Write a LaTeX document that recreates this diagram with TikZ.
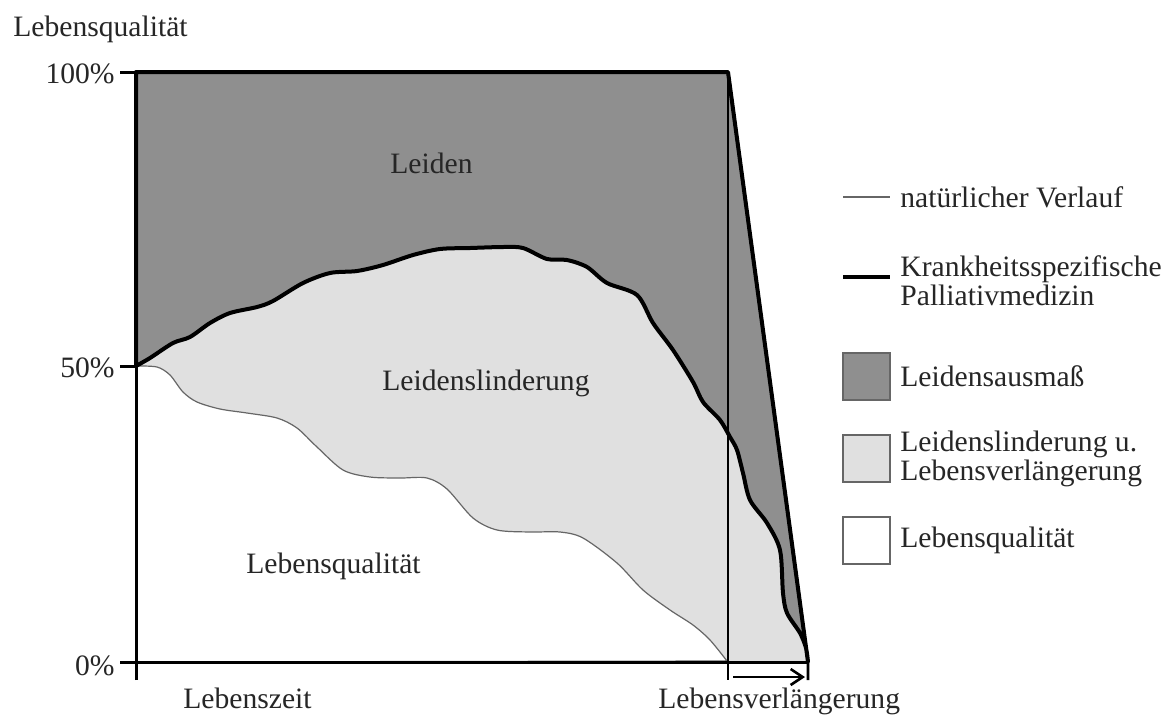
\documentclass[tikz,border=0pt]{standalone}
\usepackage{fontspec}
\setmainfont{Liberation Serif}
\usetikzlibrary{arrows.meta}
\definecolor{leidgray}{gray}{0.56}
\definecolor{lindgray}{gray}{0.88}
\begin{document}
\begin{tikzpicture}[x=0.5pt,y=-0.5pt,
    lbl/.style={font=\fontsize{14.8}{14.5}\selectfont, inner sep=0pt, text=black!85},
    axis/.style={line width=1.5pt},
    natural/.style={line width=0.6pt, draw=black!60},
    palliativ/.style={line width=2pt, line join=round},
    legbox/.style={draw=black!60, line width=0.8pt}]
\useasboundingbox (0,0) rectangle (1174,714);
\fill[lindgray] (136,72) -- (728,72) -- (808,662) -- (136,662) -- cycle;
\filldraw[fill=white, natural] plot[smooth, tension=0.5] coordinates {
    (136,366) (157,367) (170,375) (183,392) (197,402) (220,409) (247,413)
    (277,418) (297,428) (317,447) (343,470) (370,477) (400,478) (427,478)
    (447,489) (473,518) (497,530) (530,532) (560,532) (583,538) (617,563)
    (643,590) (670,610) (693,625) (710,640) (727,661)
  } -- (136,662) -- cycle;
\filldraw[fill=leidgray, palliativ] plot[smooth, tension=0.5] coordinates {
    (136,366) (150,358) (173,343) (190,337) (210,323) (230,313) (257,307)
    (273,301) (303,283) (330,273) (357,271) (383,265) (413,255) (440,249)
    (470,248) (503,247) (523,248) (547,259) (567,260) (587,267) (607,283)
    (637,295) (653,323) (673,350) (693,382) (703,402) (720,420) (730,437)
    (737,450) (743,473) (750,500) (767,523) (780,550) (783,593) (787,613)
    (800,633) (806,648) (808,662)
  } -- (728,72) -- (136,72) -- cycle;
% axes
\draw[axis] (136,680) -- (136,72) -- (728,72);
\draw[axis] (120,72) -- (136,72);
\draw[axis] (120,366) -- (136,366);
\draw[axis] (120,662) -- (808,662);
\draw[line width=1.3pt] (728,72) -- (728,680);
\draw[line width=1.3pt] (728,72) -- (808,662) -- (808,680);
\draw[line width=1.3pt, -{Straight Barb[length=6pt,width=8pt]}] (733,677) -- (805,677);
\foreach \y/\t [count=\n] in {83/100\%,377/50\%,675/0\%} {
    \node[lbl, anchor=base east] (pct\n) at (115,\y) {\t};
  }
\node[lbl, anchor=base west] (yaxis) at (13,36) {Lebensqualität};
\node[lbl, anchor=base west] (xaxis) at (183,708) {Lebenszeit};
\node[lbl, anchor=base west] (xlong) at (658,708) {Lebensverlängerung};
\node[lbl, anchor=base west] (leiden) at (390,173) {Leiden};
\node[lbl, anchor=base west] (linder) at (382,390) {Leidenslinderung};
\node[lbl, anchor=base west] (lebq) at (246,573) {Lebensqualität};
% legend
\draw[natural] (843,197) -- (890,197);
\node[lbl, anchor=base west] (legnat) at (900,207) {natürlicher Verlauf};
\draw[palliativ] (843,277) -- (890,277);
\node[lbl, align=left, anchor=west] (legpal) at (900,281) {Krankheitsspezifische\\Palliativmedizin};
\foreach \y/\c/\t [count=\n] in {
        353/leidgray/{Leidensausmaß},
        435/lindgray/{Leidenslinderung u.\\Lebensverlängerung},
        517/white/{Lebensqualität}
  } {
       \filldraw[legbox, fill=\c] (843,\y) rectangle ++(47,47);
       \node[lbl, align=left, anchor=west] (leg\n) at (900,\y+23.5) {\t};
  }
\end{tikzpicture}
\end{document}
